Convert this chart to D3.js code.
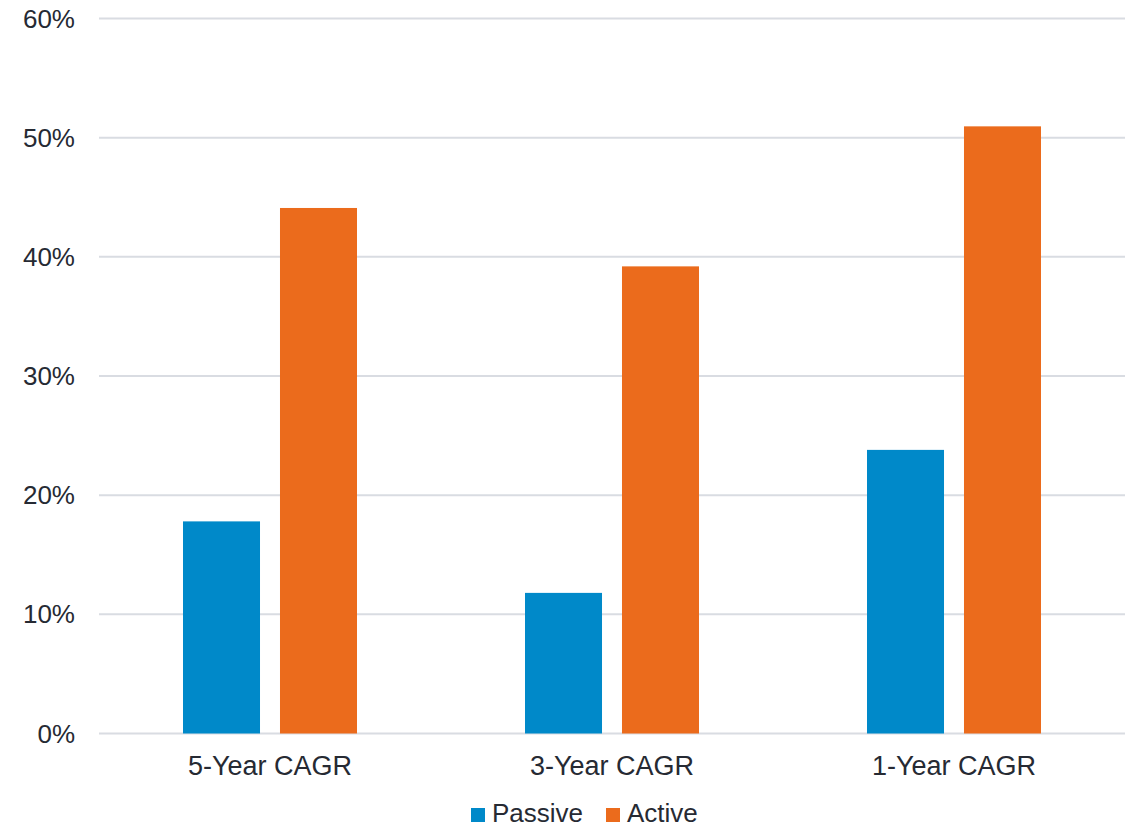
<!DOCTYPE html>
<html>
<head>
<meta charset="utf-8">
<script src="https://cdn.jsdelivr.net/npm/d3@7"></script>
<style>
  body { margin: 0; background: #fff; }
  text { font-family: "Liberation Sans", Arial, sans-serif; fill: #262a33; }
</style>
</head>
<body>
<svg id="chart" width="1135" height="830"></svg>
<script>
// chart data
var categories = ["5-Year CAGR", "3-Year CAGR", "1-Year CAGR"];
var seriesNames = ["Passive", "Active"];
var passive = [17.8, 11.8, 23.8];
var active = [44.1, 39.2, 50.95];
var yTicks = [0, 10, 20, 30, 40, 50, 60];

var colors = {Passive: "#0089c9", Active: "#eb6b1c"};

var svg = d3.select("#chart"),
    margin = {top: 18.5, right: 10, bottom: 96.5, left: 99},
    width = 1125 - margin.left,
    height = 733.5 - margin.top,
    g = svg.append("g").attr("transform", "translate(" + margin.left + "," + margin.top + ")");

var data = categories.map(function(c, i) {
  return {cat: c, Passive: passive[i], Active: active[i]};
});

var x0 = d3.scaleBand().domain(categories).range([0, width]);
var x1 = d3.scaleBand().domain(seriesNames).range([0, 174]).paddingInner(0.206);
var y = d3.scaleLinear().domain([0, 60]).range([height, 0]);

// gridlines
g.append("g")
  .selectAll("line")
  .data(yTicks)
  .enter().append("line")
  .attr("x1", 0)
  .attr("x2", width)
  .attr("y1", function(d) { return y(d); })
  .attr("y2", function(d) { return y(d); })
  .attr("stroke", "#d9dce2")
  .attr("stroke-width", 2);

// y labels
g.append("g")
  .selectAll("text")
  .data(yTicks)
  .enter().append("text")
  .attr("x", -24)
  .attr("y", function(d) { return y(d); })
  .attr("dy", "0.35em")
  .attr("text-anchor", "end")
  .attr("font-size", 26)
  .text(function(d) { return d + "%"; });

// bars
g.append("g")
  .selectAll("g")
  .data(data)
  .enter().append("g")
  .attr("transform", function(d) { return "translate(" + (x0(d.cat) + x0.bandwidth() / 2 - 87) + ",0)"; })
  .selectAll("rect")
  .data(function(d) { return seriesNames.map(function(k) { return {key: k, value: d[k]}; }); })
  .enter().append("rect")
  .attr("x", function(d) { return x1(d.key); })
  .attr("y", function(d) { return y(d.value); })
  .attr("width", x1.bandwidth())
  .attr("height", function(d) { return y(0) - y(d.value); })
  .attr("fill", function(d) { return colors[d.key]; });

// x labels
g.append("g")
  .selectAll("text")
  .data(categories)
  .enter().append("text")
  .attr("x", function(d) { return x0(d) + x0.bandwidth() / 2; })
  .attr("y", height + 41.5)
  .attr("text-anchor", "middle")
  .attr("font-size", 27)
  .text(function(d) { return d; });

// legend
var legendX = [471, 606];
var legend = svg.append("g")
  .selectAll("g")
  .data(seriesNames)
  .enter().append("g")
  .attr("transform", function(d, i) { return "translate(" + legendX[i] + ",808)"; });

legend.append("rect")
  .attr("width", 14)
  .attr("height", 14)
  .attr("fill", function(d) { return colors[d]; });

legend.append("text")
  .attr("x", 21)
  .attr("y", 14)
  .attr("font-size", 26)
  .text(function(d) { return d; });
</script>
</body>
</html>
